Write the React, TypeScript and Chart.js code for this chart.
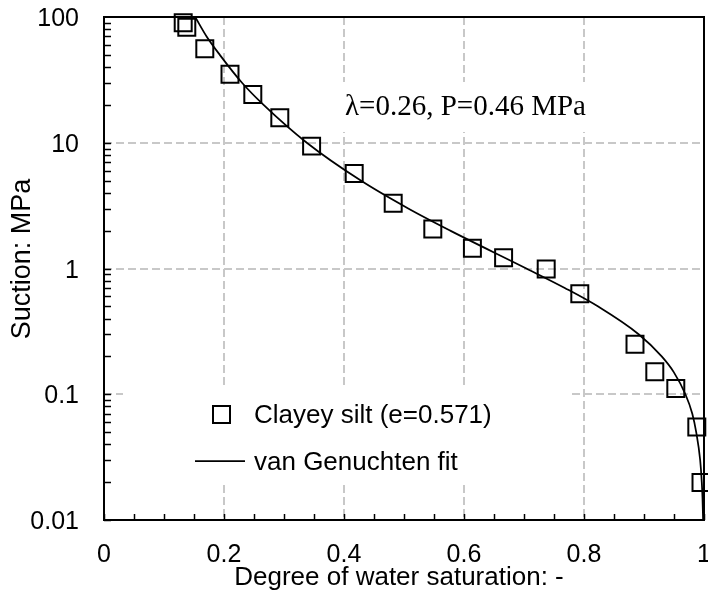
import React, { useEffect, useRef } from "react";
import { Chart, registerables } from "chart.js";

Chart.register(...registerables);

// Measured data: degree of saturation (-) vs suction (MPa)
const saturation = [0.132, 0.138, 0.168, 0.21, 0.248, 0.293, 0.346, 0.417, 0.482, 0.548, 0.614, 0.666, 0.737, 0.793, 0.885, 0.918, 0.953, 0.988, 0.995];
const suction = [90, 83, 56, 35, 24.2, 15.8, 9.4, 5.7, 3.3, 2.06, 1.45, 1.22, 0.99, 0.63, 0.25, 0.151, 0.111, 0.055, 0.0199];

// van Genuchten fit curve
const fitSaturation = [0.152, 0.171, 0.193, 0.23, 0.266, 0.338, 0.428, 0.507, 0.577, 0.704, 0.768, 0.823, 0.891, 0.9295, 0.9496, 0.969, 0.9805, 0.987, 0.9936, 0.9963, 0.9975, 0.9985];
const fitSuction = [100, 70, 50, 30, 20, 10, 5, 3, 2, 1, 0.7, 0.5, 0.3, 0.2, 0.15, 0.1, 0.07, 0.05, 0.03, 0.02, 0.015, 0.01];

const xTickValues = [0, 0.2, 0.4, 0.6, 0.8, 1];
const xTickLabels = ["0", "0.2", "0.4", "0.6", "0.8", "1"];
const yTickValues = [0.01, 0.1, 1, 10, 100];
const yTickLabels = ["0.01", "0.1", "1", "10", "100"];
const xGridValues = [0.2, 0.4, 0.6, 0.8];
const yGridValues = [0.1, 1, 10];

const seriesLabel = "Clayey silt (e=0.571)";
const fitLabel = "van Genuchten fit";
const annotationText = "\u03bb=0.26, P=0.46 MPa";
const xTitle = "Degree of water saturation: -";
const yTitle = "Suction: MPa";

const SANS = "'Liberation Sans', Arial, sans-serif";
const SERIF = "'Liberation Serif', 'Times New Roman', serif";

const decorPlugin = {
  id: "decor",
  beforeDatasetsDraw(chart: any) {
    const { ctx, chartArea: a, scales } = chart;
    const xs = scales.x;
    const ys = scales.y;
    ctx.save();
    ctx.strokeStyle = "#c8c8c8";
    ctx.lineWidth = 2;
    ctx.setLineDash([8, 4]);
    for (const v of xGridValues) {
      const px = Math.round(xs.getPixelForValue(v));
      ctx.beginPath();
      ctx.moveTo(px, a.top);
      ctx.lineTo(px, a.bottom);
      ctx.stroke();
    }
    for (const v of yGridValues) {
      const py = Math.round(ys.getPixelForValue(v));
      ctx.beginPath();
      ctx.moveTo(a.left, py);
      ctx.lineTo(a.right, py);
      ctx.stroke();
    }
    ctx.setLineDash([]);
    // white boxes behind legend and annotation
    ctx.fillStyle = "#ffffff";
    ctx.fillRect(123, 387, 445, 98);
    ctx.fillRect(343, 82, 255, 50);
    ctx.restore();
  },
  afterDatasetsDraw(chart: any) {
    const { ctx, chartArea: a, scales } = chart;
    const xs = scales.x;
    const ys = scales.y;
    ctx.save();
    ctx.strokeStyle = "#000";
    ctx.fillStyle = "#000";

    // y ticks (inward), major + minor
    ctx.lineWidth = 1.5;
    for (let d = 0; d < yTickValues.length - 1; d++) {
      for (let m = 1; m <= 9; m++) {
        const v = yTickValues[d] * m;
        const py = Math.round(ys.getPixelForValue(v)) + 0.5;
        ctx.beginPath();
        ctx.moveTo(a.left, py);
        ctx.lineTo(a.left + 7, py);
        ctx.stroke();
      }
    }
    // x ticks (inward) every 0.05
    for (let i = 0; i <= 20; i++) {
      const px = Math.round(xs.getPixelForValue(i * 0.05)) + 0.5;
      ctx.beginPath();
      ctx.moveTo(px, a.bottom);
      ctx.lineTo(px, a.bottom - 6);
      ctx.stroke();
    }

    // frame
    ctx.lineWidth = 2;
    ctx.strokeRect(a.left, a.top, a.right - a.left, a.bottom - a.top);

    // tick labels
    ctx.font = `25px ${SANS}`;
    ctx.textBaseline = "alphabetic";
    ctx.textAlign = "right";
    yTickValues.forEach((v, i) => {
      const py = ys.getPixelForValue(v);
      ctx.fillText(yTickLabels[i], a.left - 25, py + 9);
    });
    ctx.textAlign = "center";
    xTickValues.forEach((v, i) => {
      const px = xs.getPixelForValue(v);
      ctx.fillText(xTickLabels[i], px, a.bottom + 42);
    });

    // axis titles
    ctx.font = `26px ${SANS}`;
    ctx.textAlign = "center";
    ctx.fillText(xTitle, 399, 585);
    ctx.save();
    ctx.translate(30, 259);
    ctx.rotate(-Math.PI / 2);
    ctx.font = `27px ${SANS}`;
    ctx.fillText(yTitle, 0, 0);
    ctx.restore();

    // annotation
    ctx.font = `29px ${SERIF}`;
    ctx.textAlign = "left";
    ctx.fillText(annotationText, 345, 115);

    // legend
    ctx.lineWidth = 2;
    ctx.strokeRect(213, 406, 17, 17);
    ctx.lineWidth = 1.75;
    ctx.beginPath();
    ctx.moveTo(195, 461);
    ctx.lineTo(245, 461);
    ctx.stroke();
    ctx.font = `26px ${SANS}`;
    ctx.textAlign = "left";
    ctx.fillText(seriesLabel, 254, 423);
    ctx.fillText(fitLabel, 254, 470);

    ctx.restore();
  },
};

export default function App() {
  const canvasRef = useRef<HTMLCanvasElement | null>(null);

  useEffect(() => {
    const canvas = canvasRef.current;
    if (!canvas) return;
    const chart = new Chart(canvas, {
      type: "scatter",
      data: {
        datasets: [
          {
            label: seriesLabel,
            data: saturation.map((s, i) => ({ x: s, y: suction[i] })),
            pointStyle: "rect",
            pointRadius: 12,
            pointBorderWidth: 2,
            pointBorderColor: "#000",
            pointBackgroundColor: "rgba(0,0,0,0)",
            showLine: false,
            clip: false,
            order: 1,
          },
          {
            label: fitLabel,
            data: fitSaturation.map((s, i) => ({ x: s, y: fitSuction[i] })),
            showLine: true,
            pointRadius: 0,
            borderColor: "#000",
            borderWidth: 1.75,
            cubicInterpolationMode: "monotone",
            fill: false,
            order: 2,
          },
        ],
      },
      options: {
        animation: false,
        responsive: false,
        devicePixelRatio: 1,
        layout: { autoPadding: false, padding: { top: 17, right: 4, left: 0, bottom: 0 } },
        plugins: {
          legend: { display: false },
          tooltip: { enabled: false },
          title: { display: false },
        },
        scales: {
          x: {
            type: "linear",
            min: 0,
            max: 1,
            grid: { display: false },
            border: { display: false },
            ticks: { display: false },
            afterFit: (s: any) => {
              s.height = 85;
            },
          },
          y: {
            type: "logarithmic",
            min: 0.01,
            max: 100,
            grid: { display: false },
            border: { display: false },
            ticks: { display: false },
            afterFit: (s: any) => {
              s.width = 104;
            },
          },
        },
      },
      plugins: [decorPlugin],
    });
    return () => chart.destroy();
  }, []);

  return (
    <div style={{ position: "absolute", left: 0, top: 0, width: 708, height: 605, background: "#fff" }}>
      <canvas ref={canvasRef} width={708} height={605} style={{ display: "block" }} />
    </div>
  );
}
